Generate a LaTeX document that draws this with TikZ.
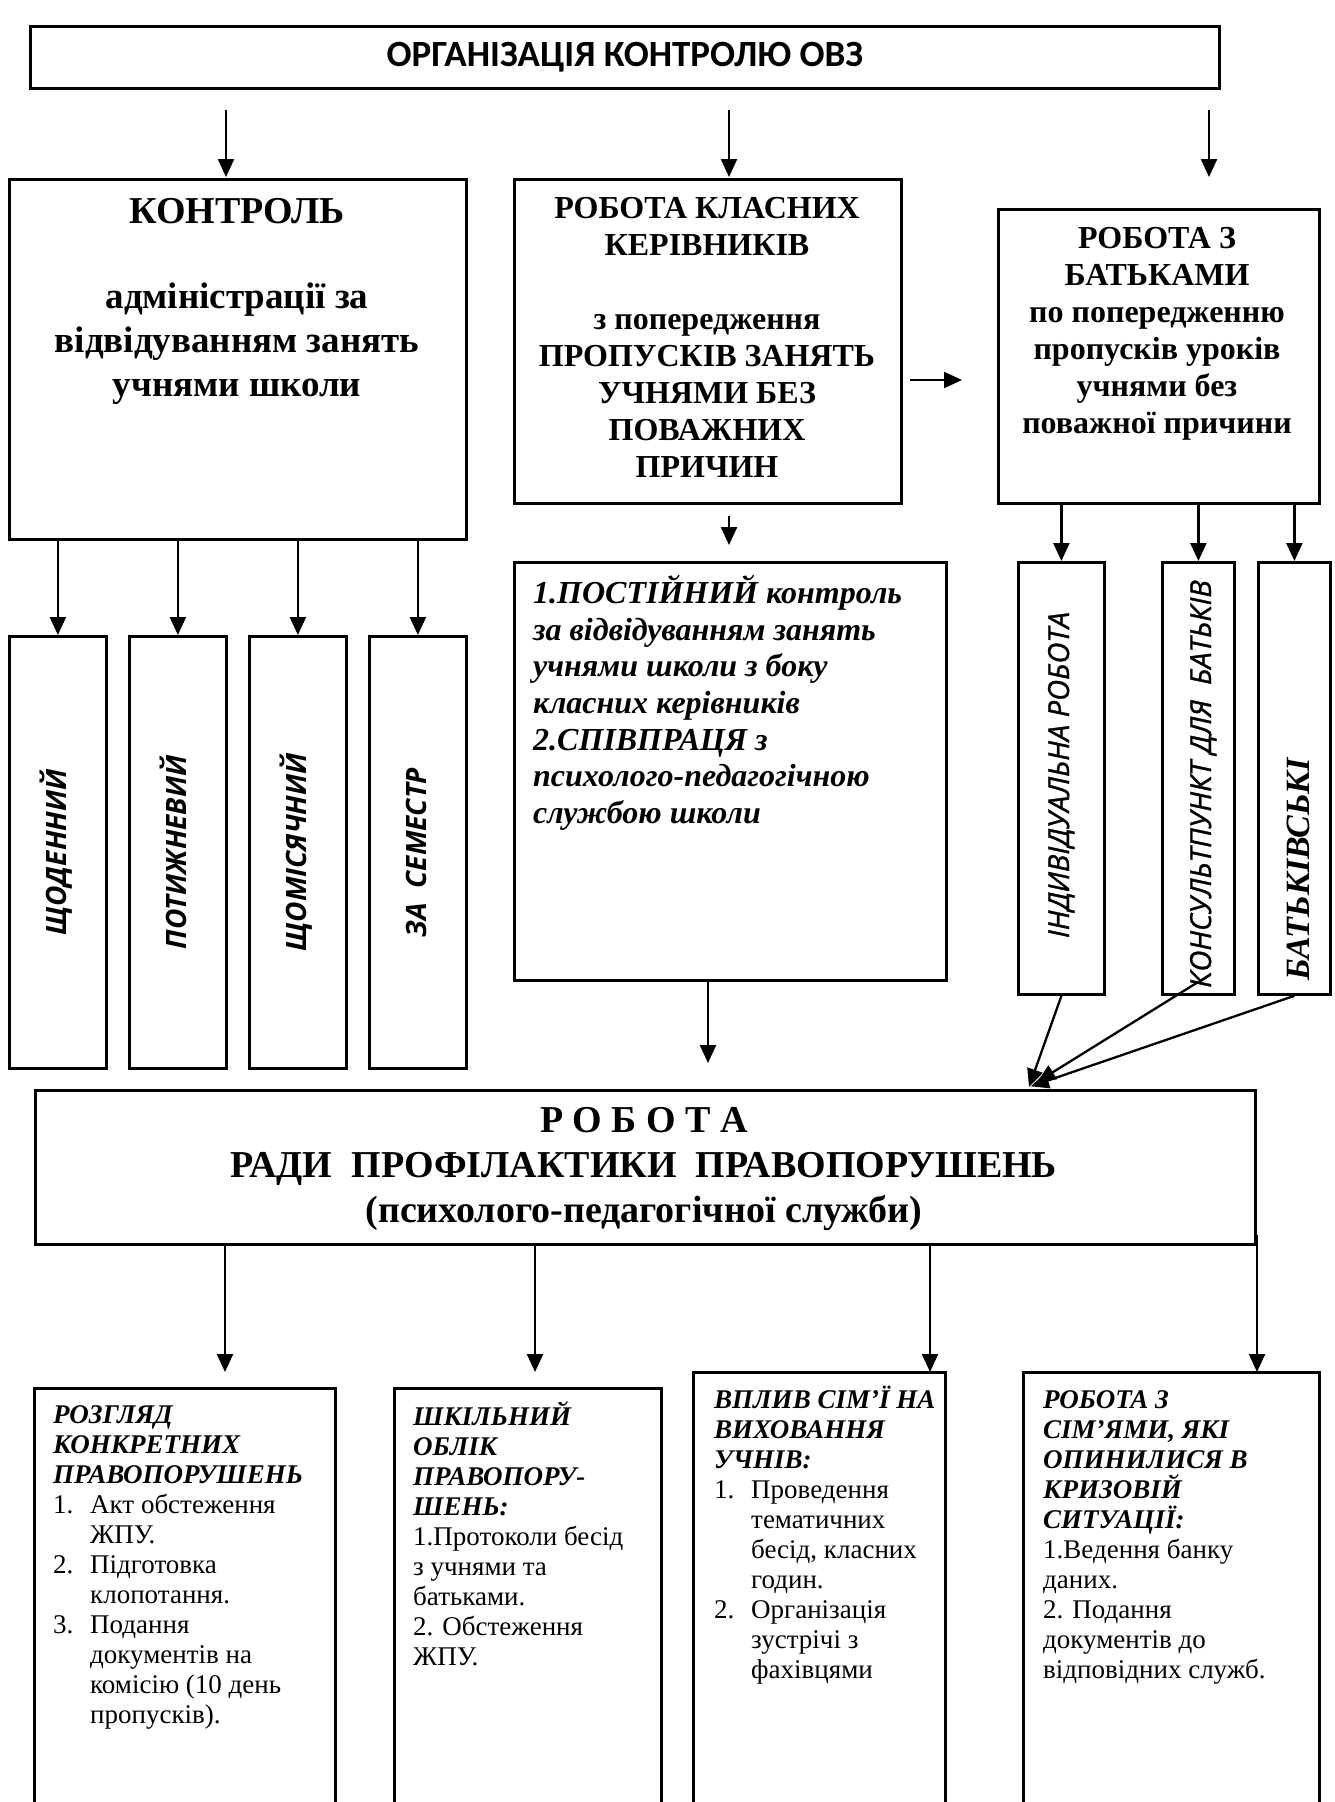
\documentclass[tikz,border=0pt]{standalone}
\usepackage{fontspec}
\setmainfont{Liberation Serif}
\newfontfamily\calibri{Carlito}
\newfontfamily\osans{Open Sans}
\newfontfamily\osansmed[FakeBold=1.2]{Open Sans}
\usetikzlibrary{arrows.meta,positioning}

\newcommand{\hd}[1]{\textbf{\textit{#1}}}
\newcommand{\li}[1]{\makebox[37pt][l]{#1}}
\newcommand{\ind}{\hspace*{37pt}}

\tikzset{
  box/.style={draw, line width=2.8pt, inner sep=0pt, anchor=north west},
  arr/.style={line width=2.3pt, -{Triangle[length=18pt,width=16pt]}},
  bigtitle/.style={inner sep=0pt, align=center, font=\bfseries\fontsize{38pt}{44pt}\selectfont},
  bigtxt/.style={inner sep=0pt, align=center, font=\bfseries\fontsize{37pt}{44pt}\selectfont},
  midtxt/.style={inner sep=0pt, align=center, font=\bfseries\fontsize{32pt}{37pt}\selectfont},
  ittxt/.style={inner sep=0pt, align=left, font=\bfseries\itshape\fontsize{32pt}{36.7pt}\selectfont},
  vlab/.style={rotate=90, anchor=base, inner sep=0pt, font=\osans\bfseries\itshape\fontsize{28pt}{28pt}\selectfont},
  rlab/.style={rotate=90, anchor=base, inner sep=0pt, font=\osansmed\itshape\fontsize{29pt}{29pt}\selectfont},
  radatxt/.style={inner sep=0pt, align=center, font=\bfseries\fontsize{38pt}{45pt}\selectfont},
  btxt/.style={anchor=north west, inner sep=0pt, align=left, font=\fontsize{27pt}{30pt}\selectfont}
}

\begin{document}
\begin{tikzpicture}[x=1pt,y=-1pt]
\useasboundingbox (0,0) rectangle (1335,1802);
\clip (0,0) rectangle (1335,1802);

% top row
\node[box, minimum width=1189pt, minimum height=62pt, font=\calibri\bfseries\fontsize{37pt}{40pt}\selectfont] (org) at (29,25) {ОРГАНІЗАЦІЯ КОНТРОЛЮ ОВЗ};

\node[box, minimum width=457pt, minimum height=360pt] (kontrol) at (8,178) {};
\node[bigtitle, anchor=north] (kontrolt) at (237,198) {КОНТРОЛЬ};
\node[bigtxt, anchor=north] (kontrolb) at (237,283) {адміністрації за\\відвідуванням занять\\учнями школи};

\node[box, minimum width=387pt, minimum height=324pt] (klasni) at (513,178) {};
\node[midtxt, anchor=north] (klasnit) at (707,197) {РОБОТА КЛАСНИХ\\КЕРІВНИКІВ\\[37pt]з попередження\\ПРОПУСКІВ ЗАНЯТЬ\\УЧНЯМИ БЕЗ\\ПОВАЖНИХ\\ПРИЧИН};

\node[box, minimum width=321pt, minimum height=294pt] (batky) at (997,208) {};
\node[midtxt, anchor=north] (batkyt) at (1157,227) {РОБОТА З\\БАТЬКАМИ\\по попередженню\\пропусків уроків\\учнями без\\поважної причини};

\coordinate (t1) at (226,177);
\coordinate (t2) at (729,177);
\coordinate (t3) at (1209,177);
\foreach \t in {t1,t2,t3}
  \draw[arr] ([yshift=-20pt]org.south -| \t) -- (\t);

\coordinate (ra) at (910,380);
\coordinate (rb) at (962,380);
\draw[arr] (ra) -- (rb);

% kontrol: four periods
\foreach \n/\x/\t in {den/8/ЩОДЕННИЙ, tyzh/128/ПОТИЖНЕВИЙ, mis/248/ЩОМІСЯЧНИЙ, sem/368/ЗА\ \ СЕМЕСТР}{
  \node[box, minimum width=97pt, minimum height=432pt] (\n) at (\x,635) {};
  \node[vlab] (\n-l) at ([xshift=9pt]\n.center) {\t};
  \draw[arr] (kontrol.south -| \n.north) -- (\n.north);
}

% klasni kerivnyky
\node[box, minimum width=432pt, minimum height=418pt] (post) at (513,561) {};
\node[ittxt, anchor=north west] (postt) at (533,575) {1.ПОСТІЙНИЙ контроль\\за відвідуванням занять\\учнями школи з боку\\класних керівників\\2.СПІВПРАЦЯ з\\психолого-педагогічною\\службою школи};
\coordinate (kb) at (729,545);
\draw[arr] ([yshift=-11pt]klasni.south -| kb) -- (kb);

% batky
\foreach \n/\x/\w in {indiv/1017/86, kons/1161/72, batkiv/1257/72}{
  \node[box, minimum width=\w pt, minimum height=432pt] (\n) at (\x,561) {};
  \draw[arr] (batky.south -| \n.north) -- (\n.north);
}
\node[rlab] (indiv-l) at (1069,775) {ІНДИВІДУАЛЬНА РОБОТА};
\node[rlab] (kons-l) at (1211,784) {КОНСУЛЬТПУНКТ ДЛЯ\ \ БАТЬКІВ};
\node[rotate=90, anchor=base, inner sep=0pt, font=\bfseries\itshape\fontsize{34pt}{34pt}\selectfont] (batkiv-l) at (1309,869) {БАТЬКІВСЬКІ};

% rada
\node[box, minimum width=1220pt, minimum height=154pt] (rada) at (34,1089) {};
\node[radatxt, anchor=north] (radat) at (644,1107) {Р О Б О Т А\\РАДИ\ \ ПРОФІЛАКТИКИ\ \ ПРАВОПОРУШЕНЬ\\(психолого-педагогічної служби)};

\coordinate (pa) at (708,1063);
\draw[arr] (post.south -| pa) -- (pa);
\coordinate (meet) at (1029,1087);
\draw[arr] (indiv.south) -- (meet);
\draw[arr, shorten >=10pt] ([yshift=14pt]kons.south) -- (meet);
\draw[arr, shorten >=2pt] (batkiv.south) -- (meet);

% bottom row
\node[box, minimum width=301pt, minimum height=450pt] (rob1) at (33,1387) {};
\node[box, minimum width=267pt, minimum height=450pt] (rob2) at (393,1387) {};
\node[box, minimum width=252pt, minimum height=460pt] (rob3) at (692,1371) {};
\node[box, minimum width=296pt, minimum height=460pt] (rob4) at (1022,1371) {};

\coordinate (p1) at (225,1372);
\coordinate (p2) at (535,1372);
\coordinate (p3) at (930,1372);
\coordinate (p4) at (1257,1372);
\foreach \p in {p1,p2,p3}
  \draw[arr] (rada.south -| \p) -- (\p);
\draw[arr] (p4 |- rada.south) ++(0,-11) -- (p4);

\node[btxt] (rob1t) at (53,1405) {\hd{РОЗГЛЯД}\\\hd{КОНКРЕТНИХ}\\\hd{ПРАВОПОРУШЕНЬ}\\\li{1.}Акт обстеження\\\ind ЖПУ.\\\li{2.}Підготовка\\\ind клопотання.\\\li{3.}Подання\\\ind документів на\\\ind комісію (10 день\\\ind пропусків).};
\node[btxt] (rob2t) at (413,1401) {\hd{ШКІЛЬНИЙ}\\\hd{ОБЛІК}\\\hd{ПРАВОПОРУ-}\\\hd{ШЕНЬ:}\\1.Протоколи бесід\\з учнями та\\батьками.\\2. Обстеження\\ЖПУ.};
\node[btxt] (rob3t) at (714,1386) {\hd{ВПЛИВ СІМ’Ї НА}\\\hd{ВИХОВАННЯ}\\\hd{УЧНІВ:}\\\li{1.}Проведення\\\ind тематичних\\\ind бесід, класних\\\ind годин.\\\li{2.}Організація\\\ind зустрічі з\\\ind фахівцями};
\node[btxt] (rob4t) at (1043,1390) {\hd{РОБОТА З}\\\hd{СІМ’ЯМИ, ЯКІ}\\\hd{ОПИНИЛИСЯ В}\\\hd{КРИЗОВІЙ}\\\hd{СИТУАЦІЇ:}\\1.Ведення банку\\даних.\\2. Подання\\документів до\\відповідних служб.};
\end{tikzpicture}
\end{document}
